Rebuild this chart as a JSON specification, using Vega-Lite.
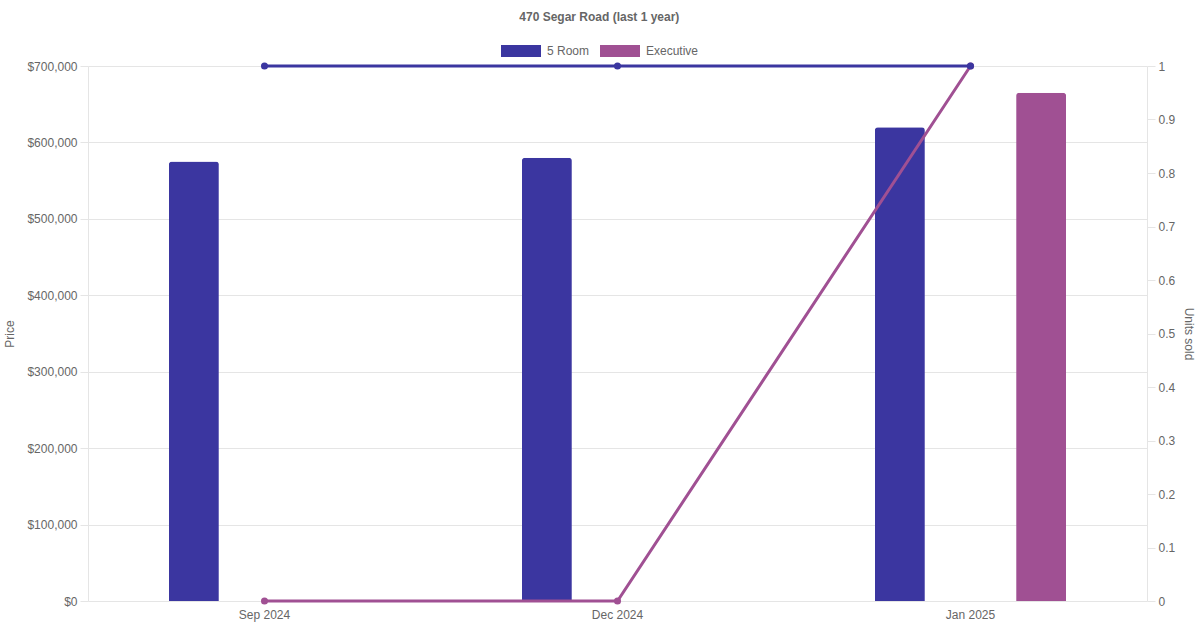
{
  "$schema": "https://vega.github.io/schema/vega-lite/v6.json",
  "width": 1059,
  "height": 535,
  "autosize": {"type": "none"},
  "padding": {"left": 88, "top": 66, "right": 53, "bottom": 29},
  "background": "white",
  "config": {
    "font": "Liberation Sans",
    "view": {"stroke": null},
    "axis": {
      "labelFont": "Liberation Sans",
      "labelFontSize": 12,
      "labelColor": "#666666",
      "titleFont": "Liberation Sans",
      "titleFontSize": 12,
      "titleFontWeight": "normal",
      "titleColor": "#666666",
      "domainColor": "#e5e5e5",
      "tickColor": "#e5e5e5",
      "gridColor": "#e5e5e5"
    },
    "legend": {
      "labelFont": "Liberation Sans",
      "labelFontSize": 12,
      "labelColor": "#666666"
    }
  },
  "title": {
    "text": "470 Segar Road (last 1 year)",
    "font": "Liberation Sans",
    "fontSize": 12,
    "fontWeight": "bold",
    "color": "#666666",
    "anchor": "middle",
    "frame": "bounds",
    "offset": 7
  },
  "data": {
    "values": [
      {"month": "Sep 2024", "series": "5 Room", "price": 575000, "units": 1},
      {"month": "Sep 2024", "series": "Executive", "price": null, "units": 0},
      {"month": "Dec 2024", "series": "5 Room", "price": 580000, "units": 1},
      {"month": "Dec 2024", "series": "Executive", "price": null, "units": 0},
      {"month": "Jan 2025", "series": "5 Room", "price": 620000, "units": 1},
      {"month": "Jan 2025", "series": "Executive", "price": 665000, "units": 1}
    ]
  },
  "encoding": {
    "x": {
      "field": "month",
      "type": "nominal",
      "sort": ["Sep 2024", "Dec 2024", "Jan 2025"],
      "scale": {"paddingInner": 0, "paddingOuter": 0},
      "axis": {"title": null, "labelAngle": 0, "ticks": false, "domain": false, "labelPadding": 8}
    }
  },
  "layer": [
    {
      "transform": [{"filter": "isValid(datum.price)"}],
      "mark": {"type": "bar", "cornerRadiusTopLeft": 3, "cornerRadiusTopRight": 3},
      "encoding": {
        "xOffset": {
          "field": "series",
          "type": "nominal",
          "scale": {"domain": ["5 Room", "Executive"], "paddingInner": 0.646, "paddingOuter": 0.573}
        },
        "y": {
          "field": "price",
          "type": "quantitative",
          "scale": {"domain": [0, 700000]},
          "axis": {
            "title": "Price",
            "format": "$,.0f",
            "tickCount": 7,
            "tickSize": 8,
            "labelPadding": 3,
            "titlePadding": 10
          }
        },
        "color": {
          "field": "series",
          "type": "nominal",
          "scale": {"domain": ["5 Room", "Executive"], "range": ["#3b36a0", "#a05093"]},
          "legend": {
            "title": null,
            "orient": "none",
            "direction": "horizontal",
            "legendX": 413,
            "legendY": -35,
            "symbolType": "M-1,-0.3H1V0.3H-1Z",
            "symbolSize": 1600,
            "symbolStrokeWidth": 0,
            "symbolOpacity": 1,
            "labelOffset": 6,
            "columnPadding": 10,
            "padding": 0
          }
        }
      }
    },
    {
      "transform": [{"filter": "datum.series === 'Executive'"}],
      "mark": {"type": "line", "strokeWidth": 3, "point": {"size": 50, "filled": true}},
      "encoding": {
        "y": {
          "field": "units",
          "type": "quantitative",
          "scale": {"domain": [0, 1]},
          "axis": {
            "orient": "right",
            "title": "Units sold",
            "values": [0, 0.1, 0.2, 0.3, 0.4, 0.5, 0.6, 0.7, 0.8, 0.9, 1],
            "format": ".1~f",
            "grid": false,
            "tickSize": 8,
            "labelPadding": 3,
            "titlePadding": 7
          }
        },
        "color": {"field": "series", "type": "nominal"}
      }
    },
    {
      "transform": [{"filter": "datum.series === '5 Room'"}],
      "mark": {"type": "line", "strokeWidth": 3, "point": {"size": 50, "filled": true}},
      "encoding": {
        "y": {"field": "units", "type": "quantitative", "axis": null},
        "color": {"field": "series", "type": "nominal"}
      }
    }
  ],
  "resolve": {"scale": {"y": "independent"}}
}
